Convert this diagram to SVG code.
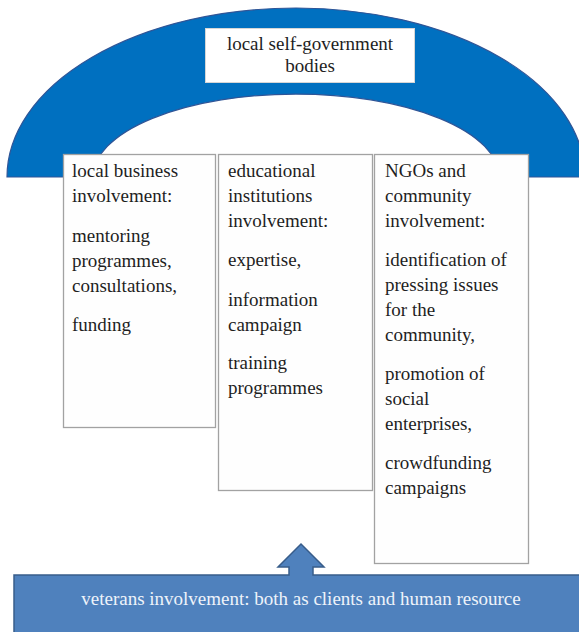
<svg xmlns="http://www.w3.org/2000/svg" width="579" height="632" viewBox="0 0 579 632">
  <style>
    text { font-family: "Liberation Serif", "Times New Roman", "DejaVu Serif", serif; font-size: 19px; fill: #1e1e1e; }
    .col { fill: #fefefe; stroke: #a2a2a2; stroke-width: 1.3; }
    .banner-text { fill: #eef3fa; text-anchor: middle; }
    .mid { text-anchor: middle; }
  </style>

  <!-- overarching block arc -->
  <g id="arch">
    <path d="M 7 177 A 289 169 0 0 1 585 177 L 499 177 A 203 83 0 0 0 93 177 Z"
          fill="#0070c0" stroke="#2f5597" stroke-width="1.2"/>
  </g>

  <g id="self-government">
    <rect x="205.5" y="28.5" width="209" height="54" fill="#ffffff" stroke="#d6d6d6" stroke-width="1"/>
    <text class="mid" x="310" y="50">local self-government</text>
    <text class="mid" x="310" y="72">bodies</text>
  </g>

  <g id="business">
    <rect class="col" x="63.5" y="154.5" width="152" height="273"/>
    <text x="72" y="177">local business</text>
    <text x="72" y="202">involvement:</text>
    <text x="72" y="242">mentoring</text>
    <text x="72" y="267">programmes,</text>
    <text x="72" y="292">consultations,</text>
    <text x="72" y="331">funding</text>
  </g>

  <g id="education">
    <rect class="col" x="218.5" y="154.5" width="154" height="336"/>
    <text x="228" y="177">educational</text>
    <text x="228" y="202">institutions</text>
    <text x="228" y="227">involvement:</text>
    <text x="228" y="266">expertise,</text>
    <text x="228" y="306">information</text>
    <text x="228" y="331">campaign</text>
    <text x="228" y="369">training</text>
    <text x="228" y="394">programmes</text>
  </g>

  <g id="ngo">
    <rect class="col" x="374.5" y="154.5" width="154" height="409"/>
    <text x="385" y="177">NGOs and</text>
    <text x="385" y="202">community</text>
    <text x="385" y="227">involvement:</text>
    <text x="385" y="266">identification of</text>
    <text x="385" y="291">pressing issues</text>
    <text x="385" y="316">for the</text>
    <text x="385" y="341">community,</text>
    <text x="385" y="380">promotion of</text>
    <text x="385" y="405">social</text>
    <text x="385" y="430">enterprises,</text>
    <text x="385" y="469">crowdfunding</text>
    <text x="385" y="494">campaigns</text>
  </g>

  <!-- base banner with upward arrow -->
  <g id="veterans">
    <path d="M 14 575 L 289 575 L 289 567 L 278 567 L 301 544 L 324 567 L 313 567 L 313 575 L 590 575 L 590 640 L 14 640 Z"
          fill="#4f81bd" stroke="#385d8a" stroke-width="1.5"/>
    <text class="banner-text" x="301" y="605">veterans involvement: both as clients and human resource</text>
  </g>
</svg>
